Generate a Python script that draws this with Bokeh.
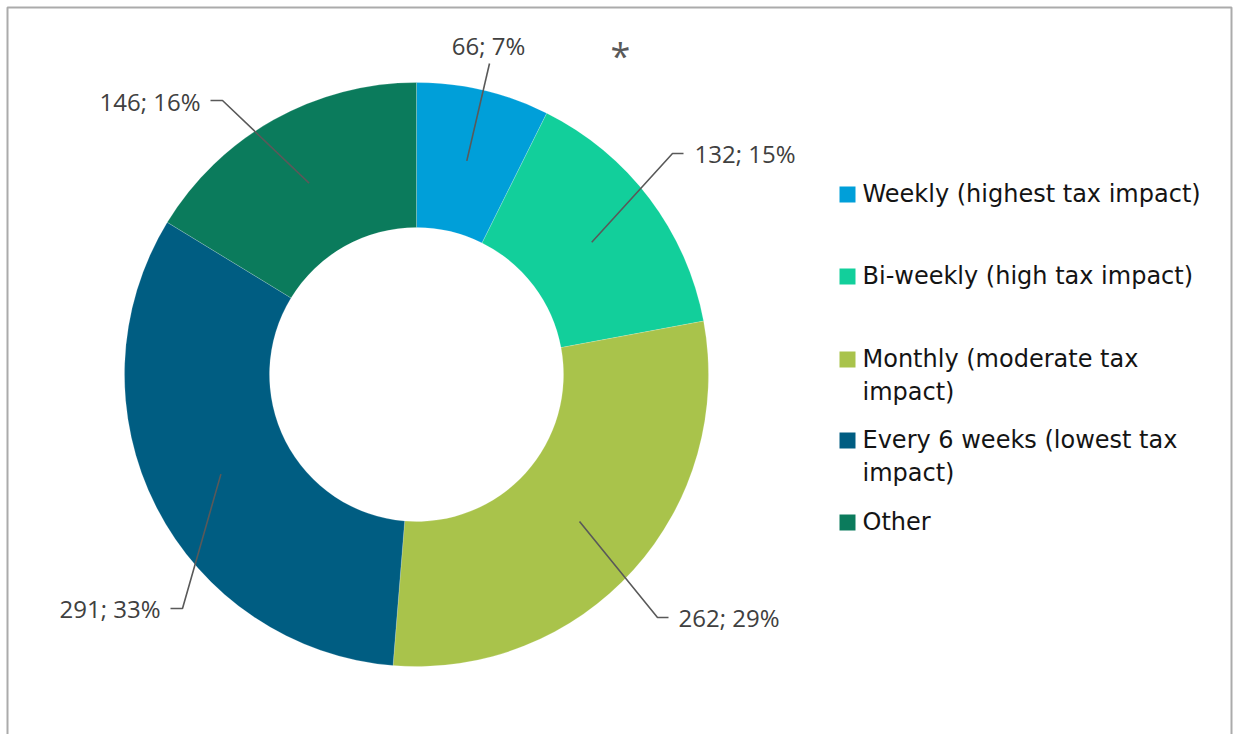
import numpy as np
from bokeh.plotting import figure
from bokeh.models import Range1d, ColumnDataSource
from bokeh.core.properties import value
from bokeh.embed import file_html
from bokeh.resources import INLINE

# ---- data ----
categories = ["Weekly (highest tax impact)", "Bi-weekly (high tax impact)",
              "Monthly (moderate tax\nimpact)", "Every 6 weeks (lowest tax\nimpact)", "Other"]
counts = [66, 132, 262, 291, 146]
pct_labels = ["7%", "15%", "29%", "33%", "16%"]
colors = ["#009fd9", "#12cf9b", "#a9c34b", "#005d82", "#0b7b5c"]

W, H = 1233, 734
TEXT_SHIFT = 9  # compensate renderer baseline offset
def X(px): return px
def Y(py): return H - py

p = figure(width=W, height=H, output_backend="svg", toolbar_location=None,
           x_range=Range1d(0, W), y_range=Range1d(0, H), min_border=0,
           background_fill_color="white", border_fill_color="white")
p.axis.visible = False
p.grid.visible = False
p.outline_line_color = None

# frame (open at bottom)
p.line([X(7), X(7), X(1231), X(1231)], [Y(760), Y(7), Y(7), Y(760)],
       line_color="#ababab", line_width=2)

# donut
cx, cy = X(416), Y(374)
r_in, r_out = 147, 292
total = sum(counts)
frac = np.array(counts) / total
cum = np.concatenate([[0], np.cumsum(frac)])
start = np.pi / 2 - cum[:-1] * 2 * np.pi
end = np.pi / 2 - cum[1:] * 2 * np.pi
src = ColumnDataSource(dict(start=start, end=end, color=colors))
p.annular_wedge(x=cx, y=cy, inner_radius=r_in, outer_radius=r_out,
                start_angle="start", end_angle="end", direction="clock",
                fill_color="color", line_color="white", line_width=0.3,
                line_alpha=0.6, source=src)

# leader lines and labels
mid = (start + end) / 2
r_mid = (r_in + r_out) / 2
ax = cx + r_mid * np.cos(mid)
ay = cy + r_mid * np.sin(mid)
elbows = [(489, 63), (672, 153), (657, 617), (182, 608), (222, 100)]
ends = [None, (683, 153), (668, 617), (170, 608), (210, 100)]
label_pos = [(488, 54, "center"), (694, 162, "left"), (678, 626, "left"),
             (160, 617, "right"), (200, 110, "right")]
for i in range(5):
    xs = [ax[i], X(elbows[i][0])]
    ys = [ay[i], Y(elbows[i][1])]
    if ends[i] is not None:
        xs.append(X(ends[i][0])); ys.append(Y(ends[i][1]))
    p.line(xs, ys, line_color="#595959", line_width=1.6)
    lx, ly, al = label_pos[i]
    p.text(x=[X(lx)], y=[Y(ly - TEXT_SHIFT)], text=[f"{counts[i]}; {pct_labels[i]}"],
           text_align=al, text_baseline="alphabetic", text_color="#404040",
           text_font=value("Open Sans"), text_font_size="24px")

# asterisk
p.text(x=[X(620)], y=[Y(55)], text=["*"], text_align="center", text_baseline="alphabetic",
       text_color="#595959", text_font=value("Open Sans"), text_font_size="36px")

# legend
baselines = [202, 284, 367, 448, 530]
for i, cat in enumerate(categories):
    b = baselines[i]
    p.rect(x=[X(847)], y=[Y(b - 8)], width=16, height=16, fill_color=colors[i], line_color=None)
    for j, line in enumerate(cat.split("\n")):
        p.text(x=[X(862)], y=[Y(b + 33 * j - TEXT_SHIFT)], text=[line], text_align="left",
               text_baseline="alphabetic", text_color="#141414",
               text_font=value("DejaVu Sans"), text_font_size="24px")

open("out.html", "w").write(file_html(p, INLINE))
